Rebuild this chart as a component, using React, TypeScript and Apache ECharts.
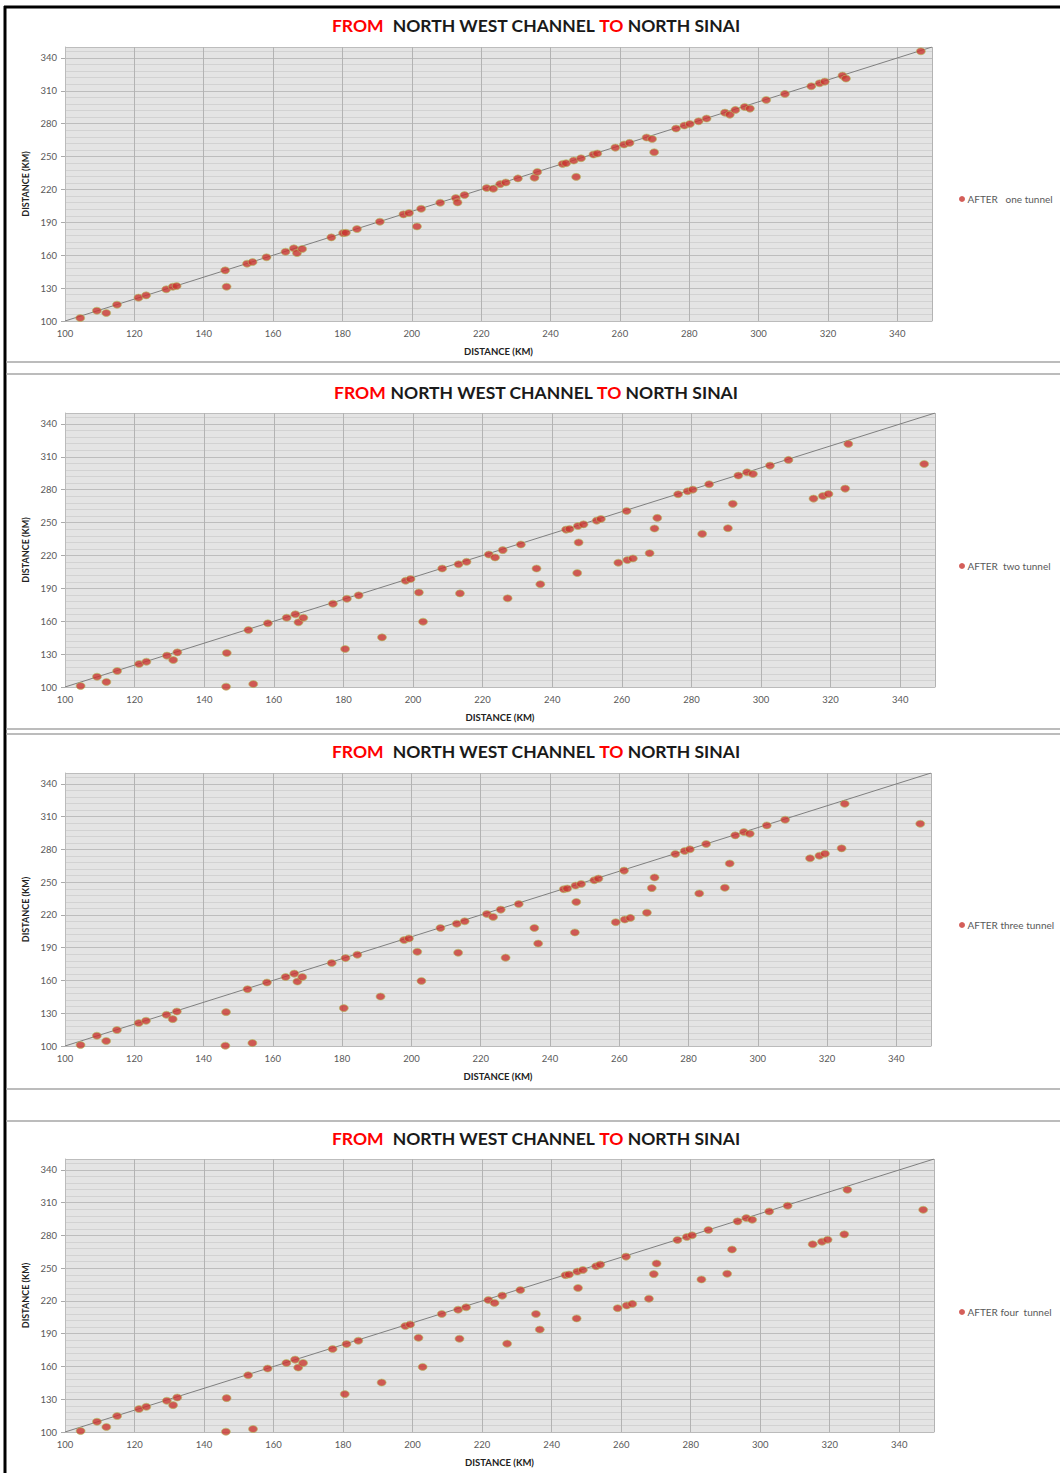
import React, { useEffect, useRef } from "react";
import * as echarts from "echarts";

const titleParts = ["FROM", "NORTH WEST CHANNEL", "TO", "NORTH SINAI"];
const axisName = "DISTANCE (KM)";
const legendNames = ["AFTER   one tunnel", "AFTER  two tunnel", "AFTER three tunnel", "AFTER four  tunnel"];
const xTickStep = 20;
const yTickStep = 30;
const axisMin = 100;
const axisMax = 350;
const refLine = [[100, 100], [350, 350]];

const afterOne = [
  [104.4, 102.7], [109.2, 109.4], [111.9, 107.3], [115.0, 114.9], [121.2, 121.3], [123.4, 123.4],
  [129.2, 128.9], [131.1, 131.3], [132.2, 131.9], [146.2, 146.2], [146.6, 131.3], [152.5, 152.3],
  [154.1, 153.8], [158.1, 158.1], [163.6, 163.2], [166.0, 166.3], [166.9, 162.0], [168.4, 165.7],
  [176.8, 176.3], [180.2, 180.2], [181.0, 180.5], [184.2, 183.9], [190.8, 190.6], [197.6, 197.3],
  [199.2, 198.5], [201.5, 186.3], [202.7, 202.4], [208.2, 207.9], [212.7, 212.2], [213.2, 208.2],
  [215.2, 214.9], [221.6, 221.3], [223.5, 220.7], [225.5, 224.9], [227.1, 226.4], [230.6, 230.1],
  [235.4, 230.8], [236.2, 236.0], [243.5, 243.3], [244.5, 244.0], [246.7, 246.4], [248.8, 248.5],
  [247.4, 231.5], [252.4, 251.9], [253.5, 252.8], [258.7, 258.2], [261.2, 261.0], [262.8, 262.5],
  [267.7, 267.4], [269.3, 266.1], [269.9, 254.0], [276.2, 275.6], [278.6, 278.3], [280.2, 279.8],
  [282.7, 282.2], [285.0, 284.7], [290.3, 290.1], [291.7, 288.3], [293.3, 292.6], [296.0, 295.3],
  [297.5, 293.8], [302.2, 301.7], [307.6, 307.2], [315.2, 314.2], [317.6, 316.9], [319.1, 318.4],
  [324.2, 323.9], [325.2, 321.2], [346.8, 346.1],
];

const afterTwo = [
  [104.5, 100.9], [109.2, 109.4], [111.9, 104.6], [115.0, 114.6], [121.3, 121.0], [123.4, 123.1],
  [129.3, 128.6], [131.1, 124.6], [132.3, 131.6], [146.5, 131.0], [146.3, 100.3], [152.7, 152.0],
  [154.1, 102.7], [158.3, 158.1], [163.7, 163.2], [166.2, 166.3], [167.1, 159.0], [168.5, 163.2],
  [177.0, 176.0], [180.5, 134.7], [181.0, 180.5], [184.4, 183.6], [191.1, 145.3], [197.9, 197.0],
  [199.3, 198.5], [201.7, 186.3], [202.9, 159.6], [208.4, 208.1], [213.1, 212.0], [213.5, 185.4],
  [215.4, 214.2], [221.8, 220.9], [223.6, 218.2], [225.8, 224.9], [227.2, 180.9], [231.0, 230.0],
  [235.5, 208.1], [236.6, 193.8], [244.0, 243.6], [245.0, 244.2], [247.4, 246.9], [249.0, 248.4],
  [247.6, 231.9], [247.2, 204.0], [252.8, 251.8], [254.0, 253.3], [261.4, 260.6], [259.0, 213.4],
  [261.6, 215.8], [263.2, 217.3], [268.0, 222.1], [269.4, 244.6], [270.2, 254.3], [276.2, 275.9],
  [278.9, 278.6], [280.4, 280.1], [283.1, 239.7], [285.1, 285.0], [290.5, 244.9], [291.9, 267.1],
  [293.5, 292.9], [296.0, 295.9], [297.7, 294.4], [302.6, 302.0], [307.9, 307.2], [315.1, 271.9],
  [317.8, 274.3], [319.4, 276.1], [324.2, 281.0], [325.1, 321.8], [346.9, 303.5],
];

// panels three and four show the same points as panel two
const afterThree = afterTwo;
const afterFour = afterTwo;

const panelData = [afterOne, afterTwo, afterThree, afterFour];

const panels = [
  { left: 65, top: 47, width: 867, height: 274, titleY: 25, titleX: 536, legendTop: 194, gap: "  " },
  { left: 65, top: 413, width: 870, height: 274, titleY: 392, titleX: 536, legendTop: 561, gap: " " },
  { left: 65, top: 773, width: 866, height: 273, titleY: 751, titleX: 536, legendTop: 920, gap: "  " },
  { left: 65, top: 1159, width: 869, height: 273, titleY: 1138, titleX: 536, legendTop: 1307, gap: "  " },
];

const FONT = "Lato, 'Open Sans', sans-serif";

export default function App() {
  const ref = useRef<HTMLDivElement>(null);
  useEffect(() => {
    if (!ref.current) return;
    const chart = echarts.init(ref.current, null, { renderer: "svg" });
    const grid: any[] = [];
    const xAxis: any[] = [];
    const yAxis: any[] = [];
    const series: any[] = [];
    const legend: any[] = [];
    const graphic: any[] = [];

    panels.forEach((p, i) => {
      grid.push({
        left: p.left, top: p.top, width: p.width, height: p.height,
        show: true, backgroundColor: "#e4e4e4", borderWidth: 0,
      });
      xAxis.push({
        type: "value", gridIndex: i, min: axisMin, max: axisMax, interval: xTickStep,
        name: axisName, nameLocation: "middle", nameGap: 25,
        nameTextStyle: { fontFamily: FONT, fontSize: 9.5, fontWeight: "bold", color: "#222" },
        axisLine: { show: true, onZero: false, lineStyle: { color: "#bbbbbb" } },
        axisTick: { show: false },
        axisLabel: { fontFamily: FONT, fontSize: 9.5, color: "#595959", margin: 7, showMaxLabel: false },
        splitLine: { show: true, lineStyle: { color: "#b3b3b3", width: 1 } },
      });
      yAxis.push({
        type: "value", gridIndex: i, min: axisMin, max: axisMax, interval: yTickStep,
        name: axisName, nameLocation: "middle", nameGap: 35, nameRotate: 90,
        nameTextStyle: { fontFamily: FONT, fontSize: 9, fontWeight: "bold", color: "#222" },
        axisLine: { show: true, onZero: false, lineStyle: { color: "#bbbbbb" } },
        axisTick: { show: true, length: 4, lineStyle: { color: "#aaaaaa" } },
        axisLabel: { fontFamily: FONT, fontSize: 9.5, color: "#595959", margin: 8, showMaxLabel: false },
        splitLine: { show: true, lineStyle: { color: "#bdbdbd", width: 1.2 } },
        minorTick: { show: false, splitNumber: 5 },
        minorSplitLine: { show: true, lineStyle: { color: "#d2d2d2", width: 1 } },
      });
      series.push({
        type: "line", xAxisIndex: i, yAxisIndex: i, data: refLine,
        symbol: "none", silent: true, lineStyle: { color: "#7f7f7f", width: 1 }, z: 2,
      });
      series.push({
        type: "scatter", name: legendNames[i], xAxisIndex: i, yAxisIndex: i, data: panelData[i],
        symbol: "circle", symbolSize: [9, 7],
        itemStyle: { color: "#c9362f", borderColor: "#b5c266", borderWidth: 0.8 }, z: 3,
      });
      legend.push({
        data: [{ name: legendNames[i], itemStyle: { color: "#c9362f", borderWidth: 0 } }],
        left: 959, top: p.legendTop, orient: "vertical",
        icon: "circle", itemWidth: 7, itemHeight: 6, itemGap: 4, padding: 0,
        textStyle: { fontFamily: FONT, fontSize: 10, color: "#595959", padding: [0, 0, 0, -3] },
      });
      graphic.push({
        type: "text", x: p.titleX, y: p.titleY,
        style: {
          text: `{r|${titleParts[0]}}{b|${p.gap}${titleParts[1]} }{r|${titleParts[2]}}{b| ${titleParts[3]}}`,
          align: "center", verticalAlign: "middle",
          rich: {
            r: { fontFamily: FONT, fontSize: 17.5, fontWeight: "bold", fill: "#ff0000" },
            b: { fontFamily: FONT, fontSize: 17.5, fontWeight: "bold", fill: "#1a1a1a" },
          },
        },
      });
    });

    // outer frame and panel separators
    graphic.push({ type: "line", shape: { x1: 4, y1: 7, x2: 1060, y2: 7 }, style: { stroke: "#000", lineWidth: 3 } });
    graphic.push({ type: "line", shape: { x1: 5, y1: 6, x2: 5, y2: 1473 }, style: { stroke: "#000", lineWidth: 3 } });
    [362, 374, 729, 734, 1089, 1121].forEach((y) => {
      graphic.push({ type: "line", shape: { x1: 6, y1: y, x2: 1060, y2: y }, style: { stroke: "#a6a6a6", lineWidth: 1.5 } });
    });

    chart.setOption({
      animation: false,
      backgroundColor: "#ffffff",
      grid, xAxis, yAxis, series, legend, graphic,
    });
    return () => chart.dispose();
  }, []);
  return (
    <div
      ref={ref}
      style={{ position: "absolute", left: 0, top: 0, width: 1060, height: 1473, background: "#fff" }}
    />
  );
}
